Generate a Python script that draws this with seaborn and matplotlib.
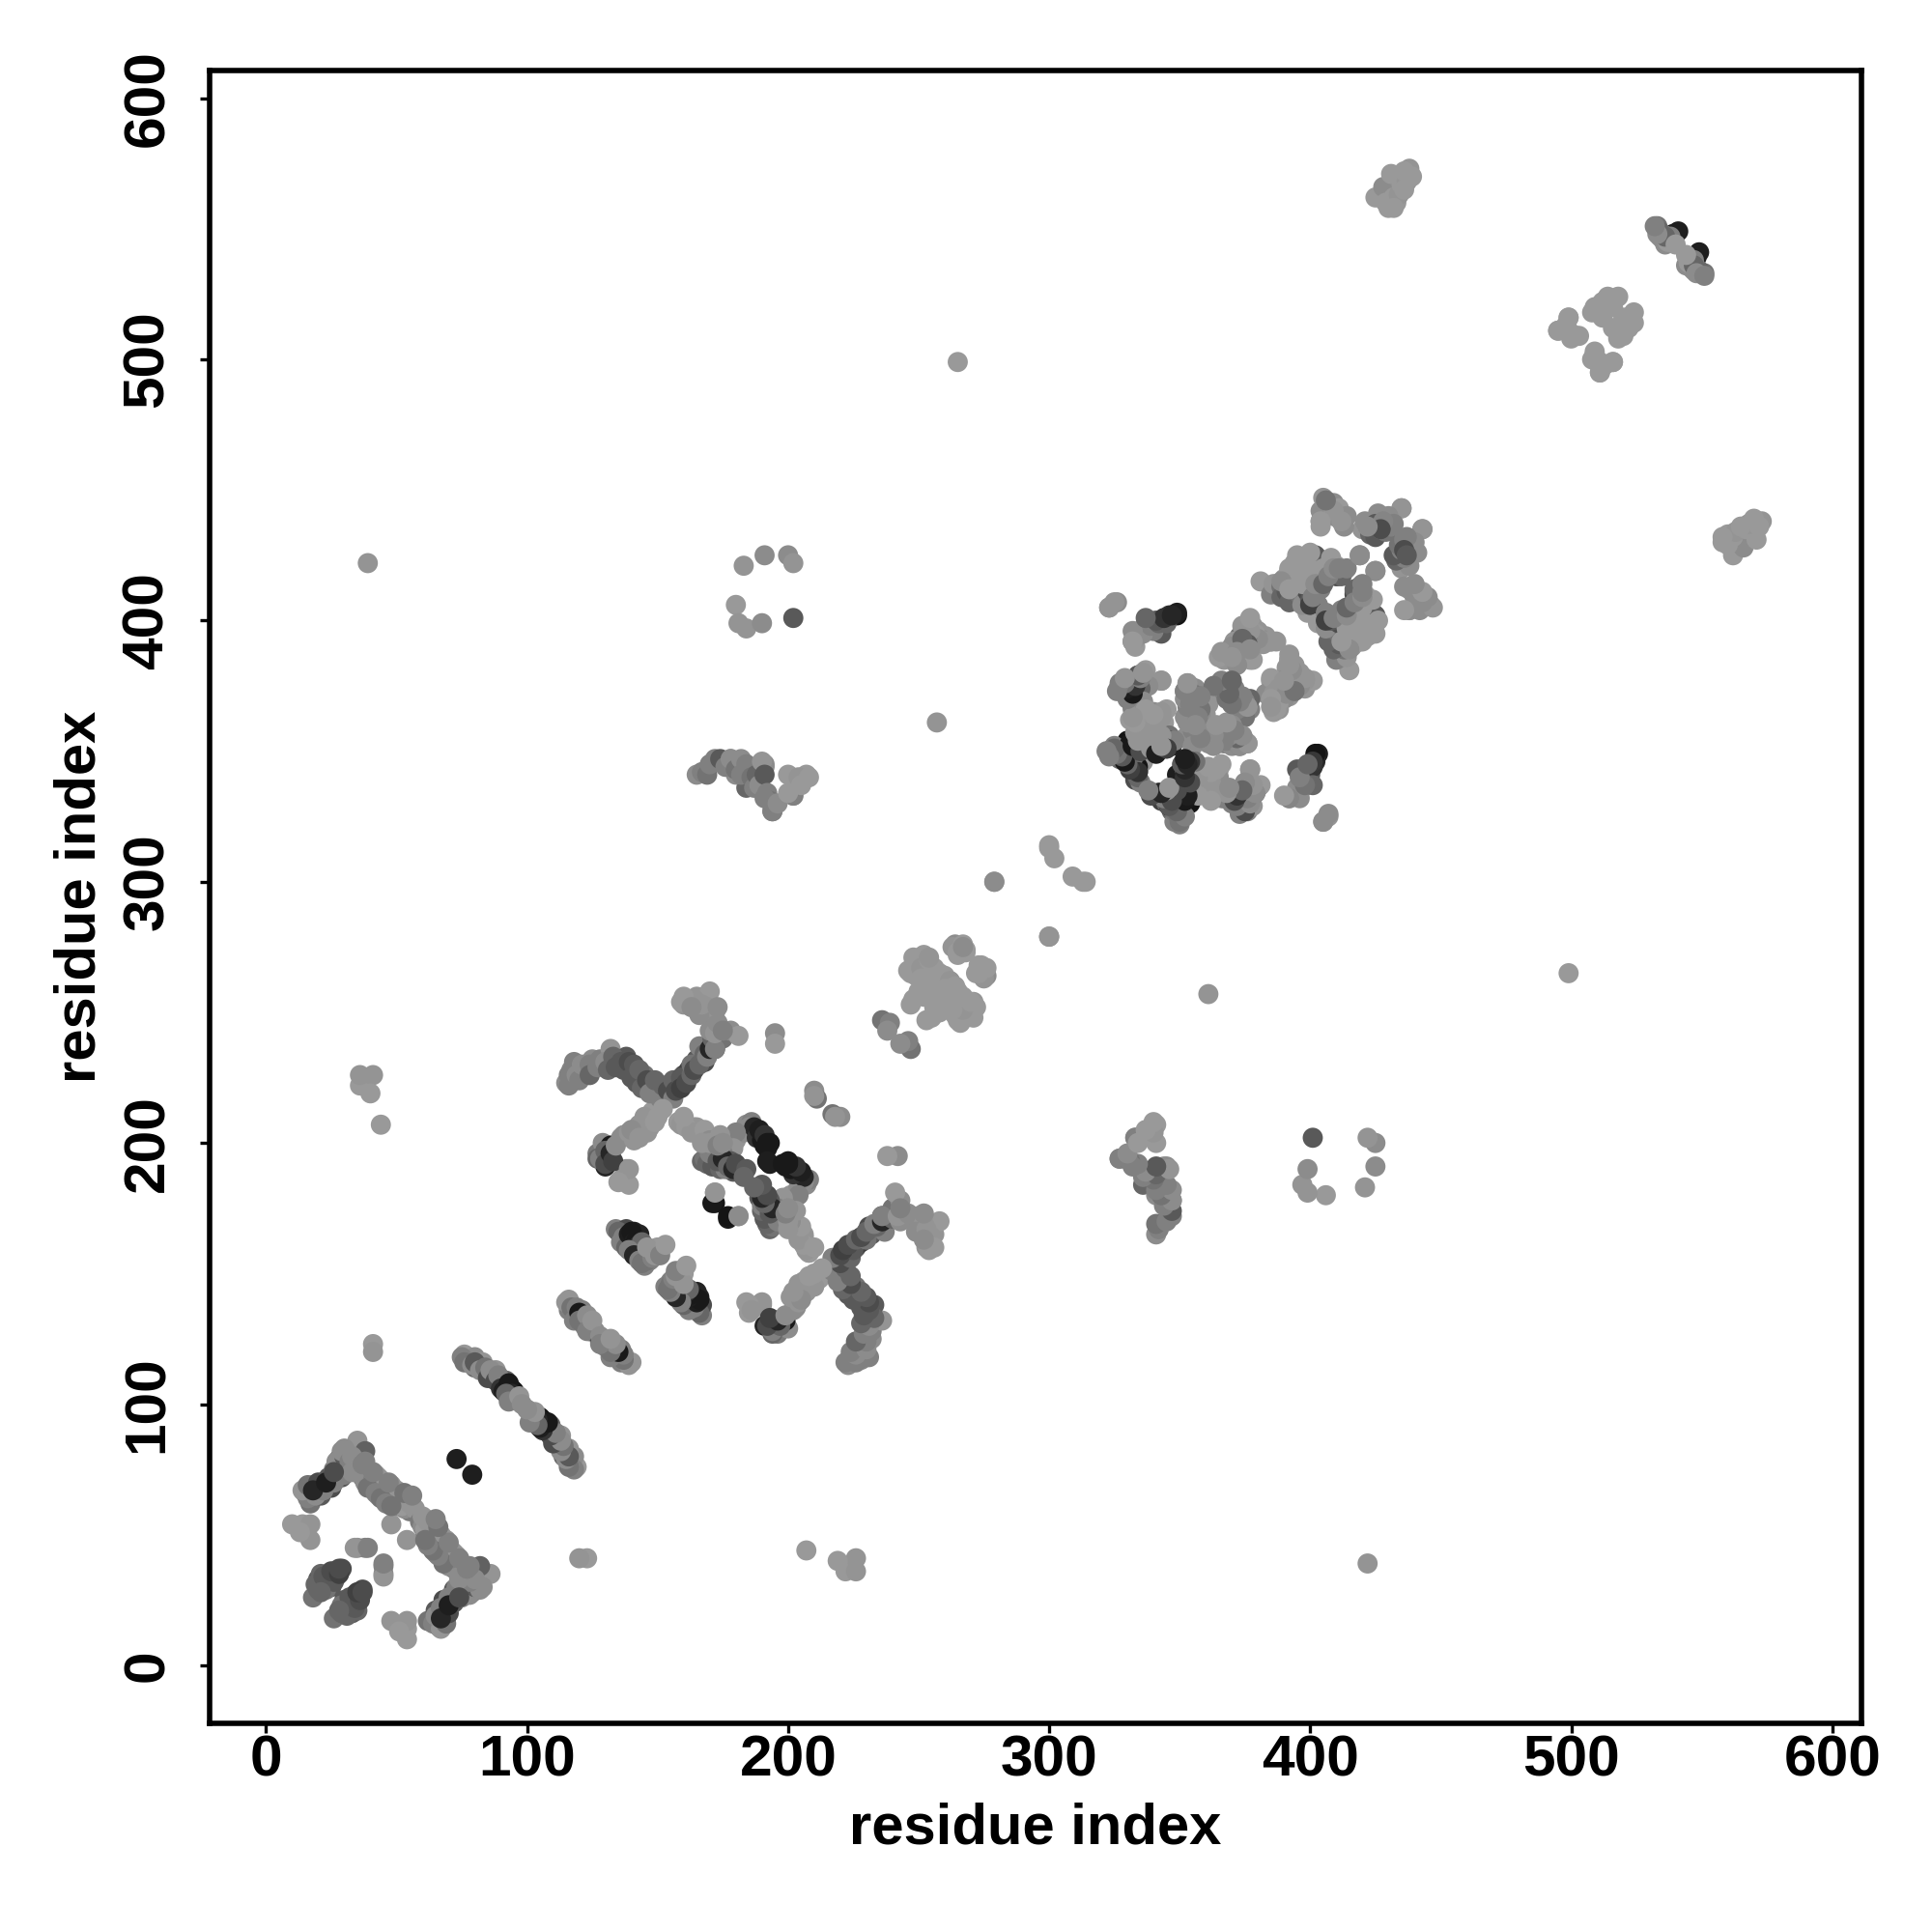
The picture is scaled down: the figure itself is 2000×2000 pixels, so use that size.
import numpy as np
import pandas as pd
import seaborn as sns
import matplotlib.pyplot as plt

# contacts, one side of the diagonal only (the map is symmetric)
contact_i = [
    15, 17, 19, 21, 18, 23, 25, 27, 29, 28, 31, 33, 35, 38, 30,
    37, 43, 48, 54, 43, 39, 50, 55, 48,
    10, 14, 17, 17, 13,
    18, 20, 22, 20, 24, 25, 27, 29,
    35, 38, 34, 39,
    41, 41, 73,
    76, 78, 80, 80, 83, 85, 88, 90, 92, 94, 95, 96,
    116, 116, 119, 121, 122, 124, 125,
    134, 136, 138, 140, 141, 143, 142, 144, 146, 147, 150, 145,
    115, 117, 118, 122, 125, 128, 132, 135, 138, 140, 143, 145, 148, 150, 153, 155,
    158, 160, 162, 165, 167, 170, 173, 172, 170,
    160, 165, 170, 168, 159,
    127, 131, 129, 137, 143, 148, 138, 138, 136,
    158, 165, 172, 184, 180, 167, 172, 176, 182, 178,
    189, 191, 193, 186,
    172, 172, 177, 181, 168, 171, 179, 158, 164, 169,
    36, 41, 40, 36, 44,
    195, 195, 210, 211, 210,
    236, 239, 238,
    247, 250, 252, 248, 253, 255, 258, 262, 264, 268, 271, 273,
    184, 190, 185, 130, 127, 132,
    152, 155, 160, 163, 168, 172, 175, 178, 181,
    165, 172, 178, 184, 191, 184, 194, 202, 207, 203,
    183, 191, 200, 202, 180, 181, 184, 190, 202,
    180, 183, 189, 202, 200, 191, 194,
    39, 265, 257, 279, 300, 302, 300, 300,
    323, 326, 332, 337, 333, 343, 349, 346, 340, 345,
    329, 331, 336, 333, 343, 332, 340, 345, 335, 330, 323, 327, 334, 334, 342,
    348, 354, 356, 363, 365, 359, 353, 340, 344, 347, 350, 347, 332, 331, 343, 337, 327, 334,
    354, 357, 359, 355, 369, 366, 356, 360, 352, 364, 359,
    377, 379, 385, 366, 369, 374, 378, 383,
    392, 385, 399, 395, 390, 387, 386, 383,
    381, 388, 393, 402, 390, 399, 394,
    394, 398, 403, 407, 413, 411, 400,
    406, 409, 412, 404,
    420, 428, 435, 435, 426, 419, 425,
    438, 435, 436, 438, 442, 446, 438,
    412, 410, 407, 402, 395, 392, 401, 400, 393, 392, 392, 387,
    430, 433, 434, 436, 438, 425, 428, 431,
    533, 534, 539, 536, 541, 535, 537,
    495, 499, 502, 509, 512, 518, 518, 503, 499, 499, 495,
]
contact_j = [
    66, 62, 68, 65, 69, 70, 68, 73, 72, 79, 81, 78, 86, 82, 83,
    72, 72, 69, 63, 65, 69, 61, 59, 54,
    54, 54, 54, 48, 51,
    26, 33, 30, 29, 33, 30, 34, 37,
    45, 45, 45, 45,
    123, 120, 79,
    119, 117, 118, 114, 116, 112, 113, 108, 109, 106, 105, 103,
    140, 136, 134, 136, 133, 131, 129,
    167, 165, 167, 163, 166, 165, 160, 158, 158, 155, 160, 153,
    223, 228, 231, 227, 232, 232, 236, 232, 233, 228, 225, 226, 222, 220, 218, 222,
    222, 226, 228, 232, 235, 238, 240, 245, 250,
    253, 256, 258, 252, 254,
    196, 194, 200, 203, 207, 212, 190, 185, 186,
    208, 206, 202, 207, 201, 193, 193, 191, 189, 190,
    204, 199, 192, 205,
    177, 181, 171, 172, 194, 192, 189, 208, 206, 203,
    222, 226, 219, 226, 207,
    242, 238, 220, 217, 218,
    247, 246, 243,
    265, 270, 272, 268, 267, 262, 265, 262, 276, 274, 254, 268,
    139, 139, 135, 191, 194, 199,
    216, 219, 223, 227, 231, 236, 240, 243, 241,
    341, 347, 347, 344, 344, 336, 327, 333, 341, 339,
    421, 425, 425, 422, 406, 399, 397, 399, 401,
    341, 344, 336, 333, 341, 345, 327,
    422, 499, 361, 300, 313, 309, 314, 279,
    405, 407, 392, 398, 390, 395, 402, 401, 396, 399,
    375, 374, 380, 378, 377, 366, 365, 366, 359, 354, 350, 348, 347, 342, 354,
    354, 348, 343, 343, 343, 335, 331, 334, 334, 332, 323, 327, 367, 373, 377, 381, 375, 377,
    375, 369, 366, 361, 375, 372, 372, 370, 355, 358, 363,
    398, 395, 392, 387, 388, 392, 385, 394,
    385, 377, 403, 379, 374, 368, 365, 372,
    415, 412, 410, 408, 416, 408, 414,
    422, 424, 424, 422, 419, 417, 420,
    445, 440, 438, 438,
    435, 438, 443, 443, 434, 425, 419,
    428, 427, 422, 412, 409, 406, 404,
    419, 417, 422, 425, 422, 419, 408, 406, 411, 409, 414, 411,
    558, 560, 565, 569, 573, 562, 566, 571,
    551, 547, 548, 544, 549, 548, 546,
    511, 516, 509, 520, 516, 524, 510, 509, 511, 516, 511,
]
contact_shade = [
    .50, .45, .40, .35, .55, .45, .30, .50, .35, .25, .55, .50, .58, .38, .55,
    .50, .58, .58, .50, .55, .52, .50, .48, .58,
    .60, .60, .58, .58, .60,
    .45, .35, .35, .40, .30, .35, .30, .30,
    .55, .50, .58, .50,
    .60, .58, .12,
    .60, .50, .55, .40, .58, .40, .58, .18, .40, .10, .08, .58,
    .58, .50, .42, .50, .40, .10, .58,
    .50, .55, .30, .45, .15, .14, .55, .45, .40, .50, .60, .50,
    .55, .52, .50, .45, .55, .50, .58, .38, .35, .40, .35, .45, .50, .55, .50, .40,
    .35, .30, .25, .35, .40, .30, .18, .50, .55,
    .58, .58, .60, .58, .60,
    .48, .15, .55, .55, .58, .60, .58, .60, .58,
    .60, .60, .58, .55, .58, .40, .35, .45, .35, .58,
    .12, .10, .12, .45,
    .08, .55, .10, .58, .45, .15, .35, .60, .58, .55,
    .60, .58, .60, .58, .60,
    .55, .60, .55, .45, .58,
    .45, .50, .55,
    .60, .60, .60, .60, .60, .60, .60, .58, .55, .60, .58, .60,
    .60, .58, .60, .15, .40, .10,
    .45, .40, .30, .35, .30, .25, .45, .55, .60,
    .55, .50, .55, .45, .58, .40, .50, .55, .60, .58,
    .58, .55, .55, .58, .60, .58, .58, .55, .35,
    .55, .50, .45, .50, .60, .55, .50,
    .58, .60, .58, .58, .60, .60, .60, .55,
    .55, .55, .52, .45, .60, .35, .08, .22, .50, .40,
    .55, .15, .55, .50, .55, .58, .55, .60, .58, .08, .45, .45, .50, .15, .20,
    .18, .50, .58, .58, .58, .55, .10, .40, .08, .45, .50, .40, .50, .10, .58, .60, .30, .58,
    .55, .50, .60, .55, .50, .50, .55, .55, .55, .55, .50,
    .58, .58, .60, .60, .60, .40, .60, .58,
    .58, .60, .60, .60, .35, .60, .60, .55,
    .60, .55, .40, .58, .58, .50, .50,
    .60, .60, .60, .60, .50, .55, .55,
    .58, .58, .58, .55,
    .58, .50, .55, .58, .35, .55, .55,
    .52, .30, .55, .58, .58, .45, .60,
    .58, .30, .55, .35, .58, .60, .58, .60, .60, .60, .58, .58,
    .60, .60, .58, .58, .58, .60, .55, .60,
    .45, .55, .12, .55, .12, .50, .60,
    .60, .60, .60, .60, .60, .60, .60, .60, .60, .60, .60,
]

# more contacts per region, i, j, shade
low_contacts = [
    (16, 64, .5), (14, 67, .58), (16, 69, .45), (19, 65, .55), (20, 70, .3), (22, 67, .5), (24, 72, .35),
    (26, 70, .5), (26, 75, .5), (28, 74, .5), (27, 78, .55), (30, 80, .35), (29, 82, .55), (32, 78, .5),
    (33, 80, .55), (30, 73, .5), (38, 70, .55), (40, 70, .55), (41, 71, .5), (42, 68, .58), (45, 70, .58),
    (45, 66, .55), (46, 67, .5), (47, 65, .58), (49, 65, .5), (51, 63, .55), (52, 64, .55), (53, 60, .55),
    (56, 61, .5), (52, 61, .6), (55, 62, .58), (57, 60, .58), (44, 71, .58), (46, 69, .58), (50, 67, .58),
    (33, 74, .55), (36, 76, .55), (38, 78, .5), (42, 73, .58), (37, 77, .5), (18, 67, .15), (23, 70, .12),
    (26, 74, .3), (19, 31, .4), (21, 35, .4), (23, 29, .45), (22, 34, .35), (26, 32, .35), (25, 36, .3),
    (28, 35, .25), (21, 28, .4), (28, 37, .3),
    (39, 68, .45), (42, 66, .5), (44, 64, .45), (46, 62, .5), (48, 61, .45), (41, 74, .5), (47, 70, .5),
    (53, 66, .45), (56, 65, .5),
]
sheet_contacts = [
    (75, 118, .5), (76, 116, .45), (79, 115, .55), (80, 116, .35), (82, 113, .55), (84, 114, .45), (85, 110, .3),
    (86, 113, .55), (88, 109, .3), (89, 111, .5), (90, 106, .2), (91, 105, .12), (93, 108, .1), (94, 104, .15),
    (92, 104, .4), (93, 101, .5), (97, 103, .58), (98, 100, .55),
    (115, 139, .58), (117, 137, .45), (118, 132, .5), (119, 137, .5), (120, 135, .1), (122, 130, .5),
    (120, 132, .45), (123, 134, .55), (124, 128, .1), (126, 128, .55), (123, 128, .5), (125, 132, .58),
    (135, 166, .4), (137, 164, .5), (136, 162, .5), (138, 160, .4), (139, 165, .12), (140, 166, .1),
    (141, 162, .12), (142, 163, .1), (143, 161, .2), (144, 162, .4), (139, 159, .5), (141, 157, .15),
    (143, 155, .5), (144, 154, .45), (146, 155, .45), (148, 156, .5), (149, 157, .58), (146, 160, .58),
    (151, 157, .5), (153, 161, .6),
]
cross_contacts = [
    (116, 226, .5), (116, 222, .5), (119, 226, .55), (120, 224, .5), (121, 230, .55), (124, 230, .5),
    (124, 226, .4), (127, 229, .5), (130, 231, .55), (131, 228, .4), (133, 233, .4), (134, 229, .35),
    (136, 231, .35), (137, 228, .35), (139, 231, .3), (141, 230, .35), (140, 225, .35), (142, 223, .35),
    (143, 228, .4), (144, 221, .4), (146, 224, .3), (147, 219, .5), (149, 224, .4), (151, 217, .5),
    (152, 222, .4), (154, 220, .3), (156, 217, .5), (156, 224, .4), (157, 220, .3), (159, 225, .35),
    (159, 221, .25), (161, 223, .3), (163, 226, .4), (163, 230, .45), (164, 228, .3), (166, 230, .4),
    (166, 237, .5), (168, 234, .4), (169, 233, .5), (170, 236, .15), (171, 240, .4), (172, 236, .5),
    (170, 243, .55), (172, 242, .58), (172, 250, .58), (173, 246, .55), (169, 252, .58), (166, 249, .55),
    (164, 255, .58), (160, 256, .6), (167, 253, .58), (163, 252, .55), (173, 252, .55), (175, 243, .5),
    (128, 194, .5), (130, 197, .4), (130, 192, .3), (132, 196, .15), (133, 193, .25), (134, 199, .55),
    (136, 202, .55), (139, 204, .58), (141, 201, .58), (145, 210, .58), (147, 206, .58), (150, 210, .6),
    (146, 204, .58), (152, 213, .6), (140, 205, .55), (149, 208, .6), (143, 202, .58),
]
black_contacts = [
    (186, 208, .5), (185, 206, .55), (183, 204, .55), (187, 206, .15), (188, 202, .2), (190, 201, .1),
    (189, 205, .12), (191, 203, .2), (192, 200, .1), (192, 198, .1), (193, 200, .1), (180, 204, .5),
    (179, 198, .58), (175, 196, .5), (169, 192, .4), (171, 191, .35), (174, 190, .4), (176, 192, .3),
    (178, 193, .35), (176, 190, .5), (170, 196, .5), (173, 193, .35), (175, 194, .15), (177, 191, .4),
    (179, 190, .15), (180, 192, .3), (184, 190, .35), (183, 187, .4),
    (159, 207, .58), (161, 206, .6), (163, 204, .58), (166, 204, .58), (168, 205, .6), (170, 201, .55),
    (174, 203, .58), (160, 210, .6), (167, 200, .58), (170, 200, .58), (173, 199, .5), (175, 200, .55),
]
hinge_contacts = [
    (246, 266, .6), (248, 271, .6), (249, 264, .6), (251, 267, .58), (251, 263, .6), (254, 270, .6),
    (256, 267, .6), (257, 263, .6), (259, 260, .6), (260, 264, .6), (263, 275, .58), (265, 273, .6),
    (267, 276, .6), (272, 265, .6), (275, 267, .55), (256, 258, .6), (252, 256, .6), (247, 253, .6),
    (248, 255, .6), (250, 258, .6),
    (167, 342, .5), (169, 341, .45), (170, 345, .5), (174, 347, .35), (176, 344, .5), (178, 347, .55),
    (180, 343, .45), (182, 347, .55), (182, 341, .5), (184, 345, .5), (186, 340, .45), (187, 336, .5),
    (188, 341, .4), (189, 337, .55), (190, 346, .58), (191, 341, .35), (192, 334, .5), (193, 331, .45),
    (194, 330, .5), (191, 332, .5), (196, 330, .55), (204, 340, .58), (205, 337, .6), (208, 340, .6),
    (200, 334, .6),
]
lobe_left_contacts = [
    (329, 372, .5), (330, 377, .55), (332, 376, .5), (334, 379, .55), (335, 376, .55), (337, 378, .58),
    (338, 375, .55), (331, 371, .3), (333, 372, .2), (335, 374, .4), (334, 368, .58), (336, 363, .58),
    (338, 360, .58), (340, 362, .58), (342, 362, .6), (336, 369, .55), (343, 364, .6), (337, 355, .55),
    (340, 357, .58), (331, 362, .6), (333, 357, .6), (344, 361, .6), (346, 356, .45),
    (325, 352, .5), (327, 349, .4), (329, 346, .35), (331, 352, .1), (333, 353, .12), (335, 349, .3),
    (332, 344, .5), (331, 347, .3), (335, 345, .58), (333, 339, .3), (334, 343, .15), (336, 346, .58),
    (338, 354, .3), (340, 352, .2), (343, 352, .15), (346, 354, .2),
    (345, 351, .35), (345, 353, .15), (347, 352, .12), (335, 338, .5), (342, 334, .2), (343, 331, .25),
    (345, 330, .4), (346, 329, .1), (348, 328, .35), (349, 326, .45), (351, 325, .4), (348, 323, .5),
    (350, 322, .5), (352, 332, .1), (350, 335, .3), (351, 339, .58), (349, 341, .12), (351, 345, .25),
    (352, 343, .58), (356, 339, .58), (358, 340, .58), (360, 341, .58), (354, 334, .58), (357, 333, .58),
    (362, 337, .58), (361, 333, .6), (364, 340, .6), (366, 337, .6), (363, 332, .58),
    (370, 330, .5), (372, 332, .1), (374, 330, .12), (375, 333, .2), (376, 329, .45), (378, 335, .5),
    (379, 334, .35), (380, 336, .58), (373, 326, .5), (376, 327, .5), (378, 329, .58),
    (393, 333, .58), (395, 336, .55), (397, 336, .55), (398, 339, .5), (399, 342, .4), (400, 341, .35),
    (401, 344, .2), (402, 346, .2), (403, 349, .12), (402, 347, .15), (396, 332, .55), (392, 332, .6),
    (401, 337, .4), (405, 323, .58), (407, 325, .58),
]
lobe_mid_contacts = [
    (352, 373, .55), (353, 376, .58), (355, 372, .4), (356, 374, .55), (356, 369, .55), (358, 371, .5),
    (354, 367, .5), (355, 364, .5), (356, 363, .55), (358, 362, .55), (360, 364, .58), (361, 368, .58),
    (352, 363, .55), (355, 358, .5), (367, 376, .58), (369, 373, .5), (371, 374, .5), (368, 370, .45),
    (374, 368, .5), (372, 369, .4), (377, 366, .5), (375, 363, .45), (377, 370, .4), (361, 353, .55),
    (365, 356, .55), (367, 353, .5), (370, 352, .55), (372, 355, .45), (366, 358, .45), (368, 354, .5),
    (371, 358, .5), (373, 352, .5), (376, 353, .58), (363, 357, .5), (360, 356, .55),
    (372, 386, .58), (374, 388, .58), (376, 391, .5), (375, 396, .55), (378, 398, .58), (380, 396, .58),
    (381, 393, .55), (383, 392, .58), (372, 391, .55), (370, 385, .6), (367, 385, .58), (373, 394, .45),
    (377, 390, .58), (387, 392, .58),
    (391, 382, .58), (393, 380, .55), (394, 376, .45), (396, 377, .58), (398, 374, .58), (392, 371, .58),
    (390, 370, .55), (388, 366, .58), (391, 376, .35), (393, 374, .4), (388, 372, .55), (386, 370, .58),
    (389, 377, .55), (401, 377, .6),
]
lobe_top_contacts = [
    (385, 410, .5), (386, 414, .58), (389, 413, .45), (389, 409, .4), (391, 411, .35), (392, 407, .4),
    (394, 412, .45), (396, 410, .45), (397, 406, .55), (399, 411, .3), (400, 408, .35), (403, 406, .5),
    (392, 420, .6), (395, 425, .6), (396, 419, .6), (399, 421, .6), (400, 426, .6), (405, 420, .6),
    (408, 424, .6), (410, 421, .6), (412, 417, .4), (414, 420, .5), (393, 416, .6), (397, 414, .6),
    (402, 418, .6),
    (404, 442, .55), (405, 447, .58), (407, 443, .55), (409, 445, .55), (410, 440, .55), (411, 443, .6),
    (413, 436, .55), (414, 440, .55), (404, 436, .6),
    (421, 438, .55), (423, 433, .4), (424, 436, .5), (425, 432, .35), (427, 435, .5), (426, 441, .55),
    (429, 434, .45), (431, 436, .5), (430, 440, .55), (432, 437, .5), (427, 436, .3), (425, 437, .35),
    (400, 406, .25), (401, 409, .5), (404, 412, .5), (402, 414, .55), (405, 414, .4), (407, 417, .5),
    (409, 420, .55), (411, 420, .5), (394, 418, .6), (389, 415, .55), (392, 412, .6),
]
far_contacts = [
    (429, 560, .6), (431, 559, .6), (432, 562, .6), (434, 563, .58), (435, 567, .6), (437, 568, .58),
    (436, 572, .6), (439, 570, .6), (432, 558, .6), (436, 565, .6),
    (534, 549, .4), (535, 546, .55), (537, 545, .6), (538, 547, .5), (536, 547, .4), (533, 548, .55),
    (540, 544, .6), (532, 551, .5),
    (498, 513, .6), (508, 518, .6), (512, 522, .6), (500, 508, .6), (514, 524, .6), (516, 520, .6),
]
tick_values = [0, 100, 200, 300, 400, 500, 600]

sns.set_style("white")
plt.rcParams['font.family'] = ['Liberation Sans', 'DejaVu Sans']
plt.rcParams['font.weight'] = 'bold'

extra = np.array(low_contacts + sheet_contacts + cross_contacts + black_contacts + hinge_contacts
                 + lobe_left_contacts + lobe_mid_contacts + lobe_top_contacts + far_contacts)
i = np.concatenate([contact_i, extra[:, 0]])
j = np.concatenate([contact_j, extra[:, 1]])
shade = np.concatenate([contact_shade, extra[:, 2]])
df = pd.DataFrame({
    "x": np.concatenate([i, j]),
    "y": np.concatenate([j, i]),
    "shade": np.concatenate([shade, shade]),
})

fig = plt.figure(figsize=(20, 20), dpi=100)
ax = fig.add_axes([217 / 2000, 1 - 1784 / 2000, 1710 / 2000, 1711 / 2000])
sns.scatterplot(data=df, x="x", y="y", hue="shade", palette="gray", hue_norm=(0, 1),
                s=225, linewidth=0, legend=False, ax=ax)
ax.set_xlim(-21.6, 611.2)
ax.set_ylim(-22.2, 610.6)
ax.set_xticks(tick_values)
ax.set_yticks(tick_values)
ax.tick_params(axis='both', length=7, width=2.4, color='black', labelcolor='black', labelsize=43.5, bottom=True, left=True)
ax.tick_params(axis='x', pad=1)
ax.tick_params(axis='y', pad=19)
plt.setp(ax.get_yticklabels(), rotation=90, va='center')
ax.set_xlabel("residue index", fontsize=43, fontweight='bold', color='black', labelpad=11)
ax.set_ylabel("residue index", fontsize=43, fontweight='bold', color='black', labelpad=11)
for s in ax.spines.values():
    s.set_linewidth(4)
    s.set_color('black')

plt.savefig("out.png", dpi=100)
